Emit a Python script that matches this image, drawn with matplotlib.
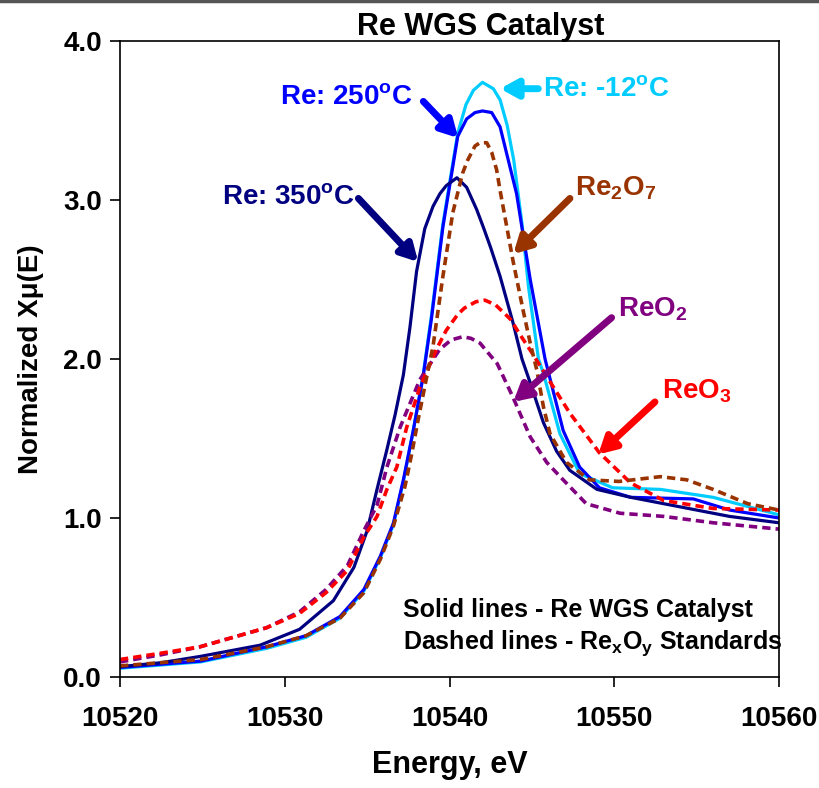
import matplotlib
matplotlib.use("Agg")
import matplotlib.pyplot as plt
from matplotlib.lines import Line2D

plt.rcParams['font.family'] = ['Liberation Sans', 'DejaVu Sans']
plt.rcParams['font.weight'] = 'bold'
plt.rcParams['mathtext.fontset'] = 'custom'
plt.rcParams['mathtext.rm'] = 'Liberation Sans:bold'
plt.rcParams['mathtext.bf'] = 'Liberation Sans:bold'
plt.rcParams['mathtext.it'] = 'Liberation Sans:bold:italic'

# Re catalyst, -12 C
e_m12 = [10520, 10524.9, 10528.9, 10531.3, 10533.35, 10534.8, 10535.8, 10536.6, 10537.2,
         10537.8, 10538.4, 10538.9, 10539.6, 10540.5, 10541.0, 10541.45, 10542.0, 10542.66,
         10543.07, 10543.5, 10543.9, 10544.4, 10544.8, 10545.4, 10545.7, 10546.7, 10547.9,
         10549.9, 10552.8, 10556, 10560]
y_m12 = [0.055, 0.095, 0.18, 0.25, 0.37, 0.54, 0.75, 0.96, 1.23,
         1.55, 1.90, 2.27, 2.85, 3.42, 3.60, 3.69, 3.74, 3.70,
         3.63, 3.47, 3.25, 2.85, 2.45, 2.0, 1.91, 1.53, 1.28,
         1.19, 1.18, 1.13, 1.02]

# Re catalyst, 250 C
e_250 = [10520, 10524.9, 10528.9, 10531.3, 10533.35, 10534.8, 10535.8, 10536.6, 10537.2,
         10537.8, 10538.4, 10538.9, 10539.6, 10540.5, 10541.04, 10541.55, 10542.0, 10542.56,
         10543.07, 10543.57, 10544.07, 10544.9, 10545.8, 10546.9, 10547.9, 10549.1, 10551,
         10554.8, 10557, 10560]
y_250 = [0.06, 0.10, 0.19, 0.26, 0.38, 0.55, 0.76, 0.97, 1.24,
         1.55, 1.89, 2.25, 2.83, 3.40, 3.51, 3.55, 3.56, 3.55,
         3.46, 3.25, 3.04, 2.50, 2.0, 1.55, 1.32, 1.19, 1.13,
         1.12, 1.05, 1.00]

# Re catalyst, 350 C
e_350 = [10520, 10522.5, 10524.9, 10528.5, 10530.9, 10532.95, 10534.2, 10535.0, 10535.6,
         10536.2, 10536.7, 10537.2, 10537.6, 10538.0, 10538.5, 10539.0, 10539.42, 10539.8,
         10540.45, 10541.04, 10541.65, 10542.05, 10542.5, 10543.07, 10543.85, 10544.4, 10544.9,
         10545.7, 10546.5, 10547.3, 10548.95, 10551, 10554, 10557, 10560]
y_350 = [0.065, 0.09, 0.13, 0.20, 0.30, 0.48, 0.69, 0.92, 1.18,
         1.43, 1.65, 1.90, 2.2, 2.55, 2.82, 2.96, 3.04, 3.09,
         3.14, 3.08, 2.94, 2.83, 2.70, 2.52, 2.23, 2.0, 1.85,
         1.60, 1.42, 1.30, 1.18, 1.13, 1.07, 1.01, 0.97]

# Re2O7 standard
e_re2o7 = [10520, 10524.9, 10528.9, 10531.3, 10533.35, 10534.8, 10535.8, 10536.6, 10537.3,
           10537.7, 10538.1, 10538.7, 10539.0, 10539.6, 10540.2, 10540.8, 10541.1, 10541.55,
           10541.85, 10542.26, 10542.56, 10542.86, 10543.07, 10543.85, 10544.46, 10544.9, 10545.3,
           10545.7, 10546.1, 10547.1, 10548.5, 10550.3, 10552.8, 10554.4, 10556, 10558.1, 10560]
y_re2o7 = [0.07, 0.11, 0.19, 0.26, 0.37, 0.53, 0.74, 0.95, 1.2,
           1.40, 1.62, 1.93, 2.08, 2.52, 2.92, 3.17, 3.25, 3.34,
           3.36, 3.36, 3.30, 3.19, 3.06, 2.62, 2.31, 2.10, 1.93,
           1.70, 1.53, 1.35, 1.24, 1.23, 1.26, 1.24, 1.18, 1.09, 1.05]

# ReO3 standard
e_reo3 = [10520, 10522.5, 10524.86, 10528.9, 10530.9, 10532.5, 10533.8, 10534.8, 10535.6,
          10536.2, 10536.8, 10537.4, 10538.2, 10539.2, 10539.8, 10540.5, 10540.9, 10541.6,
          10542.15, 10542.8, 10543.7, 10544.3, 10545.0, 10545.9, 10547.3, 10549.1, 10551,
          10553, 10556, 10560]
y_reo3 = [0.11, 0.15, 0.19, 0.31, 0.40, 0.53, 0.67, 0.88, 1.01,
          1.18, 1.32, 1.57, 1.82, 2.06, 2.18, 2.28, 2.32, 2.36,
          2.37, 2.34, 2.25, 2.15, 2.04, 1.89, 1.66, 1.41, 1.22,
          1.11, 1.06, 1.05]

# ReO2 standard
e_reo2 = [10520, 10522.5, 10524.86, 10528.9, 10530.9, 10532.5, 10533.8, 10534.8, 10535.6,
          10536.2, 10537.0, 10538.2, 10539.4, 10540.1, 10540.8, 10541.3, 10541.85, 10542.9,
          10543.85, 10544.9, 10545.9, 10546.9, 10548.3, 10550.35, 10553, 10556, 10560]
y_reo2 = [0.095, 0.14, 0.19, 0.31, 0.41, 0.55, 0.70, 0.92, 1.08,
          1.32, 1.57, 1.87, 2.06, 2.12, 2.14, 2.13, 2.10, 1.97,
          1.76, 1.51, 1.35, 1.24, 1.09, 1.03, 1.01, 0.97, 0.93]

c_m12 = '#00CCFF'
c_250 = '#0000FF'
c_350 = '#000080'
c_re2o7 = '#993300'
c_reo3 = '#FF0000'
c_reo2 = '#800080'

fig = plt.figure(figsize=(8.19, 7.88), dpi=100)
ax = fig.add_axes([120/819, 111/788, 659/819, 636/788])

dash = (0, (2.3, 1.4))
ax.plot(e_m12, y_m12, color=c_m12, lw=2.3, solid_joinstyle='round')
ax.plot(e_250, y_250, color=c_250, lw=2.3, solid_joinstyle='round')
ax.plot(e_350, y_350, color=c_350, lw=2.3, solid_joinstyle='round')
ax.plot(e_reo2, y_reo2, color=c_reo2, lw=2.6, linestyle=dash)
ax.plot(e_reo3, y_reo3, color=c_reo3, lw=2.6, linestyle=dash)
ax.plot(e_re2o7, y_re2o7, color=c_re2o7, lw=2.6, linestyle=dash)

ax.set_xlim(10520, 10560)
ax.set_ylim(0, 4.0)
ax.set_xticks([10520, 10530, 10540, 10550, 10560])
ax.set_yticks([0, 1, 2, 3, 4])
ax.set_yticklabels(['0.0', '1.0', '2.0', '3.0', '4.0'])
ax.tick_params(direction='out', length=7, width=1.2, labelsize=20)
ax.tick_params(axis='x', pad=14)
ax.tick_params(axis='y', pad=6)
for s in ax.spines.values():
    s.set_linewidth(1.2)

ax.set_xlabel("Energy, eV", fontsize=22, fontweight='bold', labelpad=13)
ax.set_ylabel("Normalized X\u03bc(E)", fontsize=20, fontweight='bold', labelpad=14)
fig.text(481/819, 1 - 27/788, "Re WGS Catalyst", fontsize=22, fontweight='bold',
         ha='center', va='center')

# arrows and labels
def arrow(tail, head, color):
    ax.annotate('', xy=head, xytext=tail,
                arrowprops=dict(arrowstyle='-|>,head_length=1.0,head_width=0.55',
                                lw=5, color=color, shrinkA=0, shrinkB=0))

fs = 20
ax.text(10537.8, 3.65, r'Re: 250$^{\mathrm{o}}$C', color=c_250, fontsize=fs, ha='right', va='center')
arrow((10538.41, 3.62), (10540.53, 3.39), c_250)

ax.text(10545.68, 3.70, r'Re: -12$^{\mathrm{o}}$C', color=c_m12, fontsize=fs, ha='left', va='center')
arrow((10545.39, 3.70), (10543.07, 3.70), c_m12)

ax.text(10534.26, 3.02, r'Re: 350$^{\mathrm{o}}$C', color=c_350, fontsize=fs, ha='right', va='center')
arrow((10534.47, 3.01), (10538.1, 2.61), c_350)

ax.text(10547.6, 3.075, r'Re$_{\mathrm{2}}$O$_{\mathrm{7}}$', color=c_re2o7, fontsize=fs, ha='left', va='center')
arrow((10547.31, 3.01), (10543.87, 2.66), c_re2o7)

ax.text(10550.2, 2.31, r'ReO$_{\mathrm{2}}$', color=c_reo2, fontsize=fs, ha='left', va='center')
arrow((10549.84, 2.26), (10543.87, 1.73), c_reo2)

ax.text(10552.9, 1.80, r'ReO$_{\mathrm{3}}$', color=c_reo3, fontsize=fs, ha='left', va='center')
arrow((10552.47, 1.73), (10549.03, 1.40), c_reo3)

ax.text(10537.18, 0.42, 'Solid lines - Re WGS Catalyst', fontsize=18, ha='left', va='center')
ax.text(10537.18, 0.214, r'Dashed lines - Re$_{\mathrm{x}}$O$_{\mathrm{y}}$ Standards', fontsize=18,
        ha='left', va='center')

fig.add_artist(Line2D([0, 1], [0.999, 0.999], color='#555555', lw=2.5, transform=fig.transFigure))

fig.savefig("out.png", dpi=100)
